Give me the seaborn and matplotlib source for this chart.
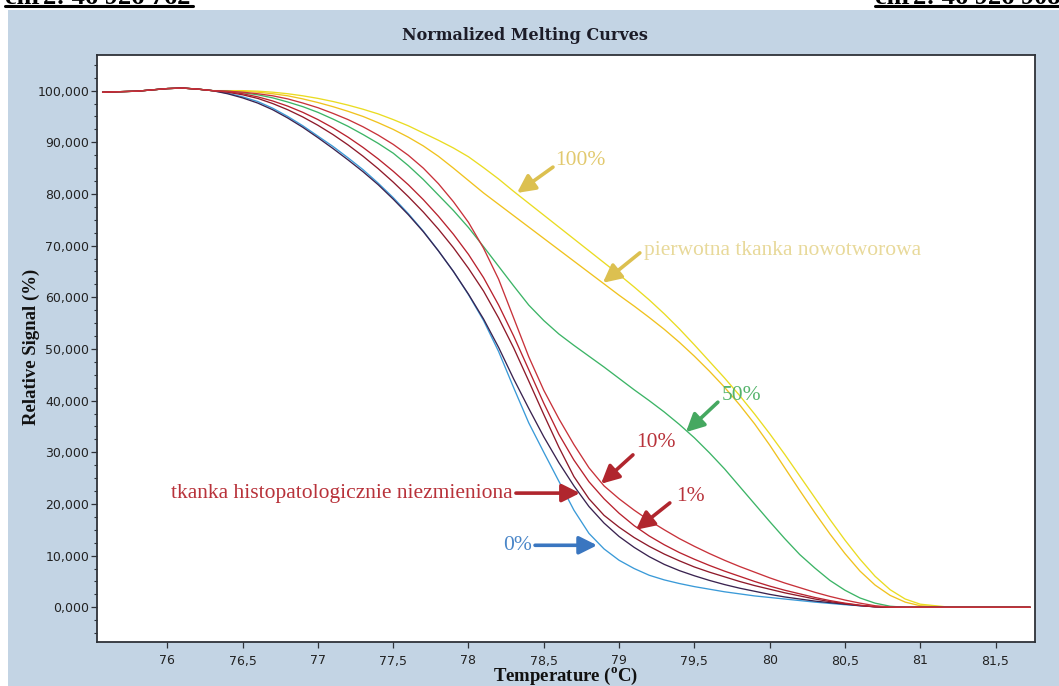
import matplotlib
matplotlib.use("Agg")
import numpy as np
import pandas as pd
import seaborn as sns
import matplotlib.pyplot as plt
from matplotlib.patches import Rectangle
from matplotlib.lines import Line2D
from matplotlib.ticker import MultipleLocator, FuncFormatter

# ---------------------------------------------------------------------------
# Normalized melting curves (HRM) — temperature grid and relative signal (%)
# ---------------------------------------------------------------------------
temperature = [75.57, 75.8, 76.0, 76.1, 76.2, 76.3,
               76.4, 76.5, 76.6, 76.7, 76.8, 76.9, 77.0,
               77.1, 77.2, 77.3, 77.4, 77.5, 77.6, 77.7, 77.8, 77.9, 78.0,
               78.1, 78.2, 78.3, 78.4, 78.5, 78.6, 78.7, 78.8, 78.9, 79.0,
               79.1, 79.2, 79.3, 79.4, 79.5, 79.6, 79.7, 79.8, 79.9, 80.0,
               80.1, 80.2, 80.3, 80.4, 80.5, 80.6, 80.7, 80.8, 80.9, 81.0,
               81.2, 81.73]

start = [99.7, 99.9, 100.4, 100.5, 100.3, 100.0]
tail = [0.0, 0.0]

primary_tumour = start + [
    100.0, 99.9, 99.7, 99.4, 99.0, 98.4, 97.7,
    96.9, 96.0, 95.0, 93.8, 92.5, 91.0, 89.3, 87.3, 85.0, 82.6,
    80.2, 78.0, 75.8, 73.6, 71.4, 69.2, 67.0, 64.8, 62.6, 60.4,
    58.3, 56.1, 53.8, 51.3, 48.6, 45.7, 42.6, 39.2, 35.5, 31.4,
    27.0, 22.6, 18.3, 14.2, 10.4, 7.0, 4.3, 2.3, 1.0, 0.3] + tail

mut_100 = start + [
    100.0, 100.0, 99.9, 99.7, 99.4, 99.0, 98.5,
    97.9, 97.2, 96.4, 95.5, 94.4, 93.2, 91.8, 90.4, 88.9, 87.2,
    85.1, 82.9, 80.5, 78.2, 75.9, 73.6, 71.3, 69.0, 66.7, 64.4,
    62.0, 59.5, 56.8, 53.9, 50.8, 47.6, 44.4, 41.0, 37.4, 33.6,
    29.6, 25.4, 21.2, 17.0, 13.0, 9.3, 6.0, 3.4, 1.6, 0.6] + tail

mut_50 = start + [
    99.9, 99.6, 99.2, 98.6, 97.8, 96.9, 95.8,
    94.5, 93.1, 91.5, 89.8, 87.9, 85.5, 82.8, 79.8, 76.8, 73.5,
    69.8, 66.0, 62.2, 58.5, 55.5, 52.9, 50.7, 48.6, 46.5, 44.3,
    42.1, 40.0, 37.8, 35.4, 32.8, 29.9, 26.8, 23.4, 20.0, 16.6,
    13.3, 10.2, 7.6, 5.2, 3.3, 1.8, 0.8, 0.2, 0.0, 0.0] + tail

mut_0 = start + [
    99.5, 98.8, 97.9, 96.6, 95.0, 93.2, 91.2,
    89.2, 87.0, 84.7, 82.1, 79.3, 76.2, 72.8, 69.0, 65.0, 60.5,
    55.5, 49.5, 42.5, 35.7, 30.0, 24.4, 18.8, 14.3, 11.3, 9.1,
    7.5, 6.2, 5.3, 4.6, 4.0, 3.5, 3.0, 2.6, 2.2, 1.9,
    1.6, 1.3, 1.0, 0.75, 0.5, 0.3, 0.1, 0.0, 0.0, 0.0] + tail

wild_type_ref = start + [
    99.4, 98.6, 97.6, 96.3, 94.7, 92.9, 90.9,
    88.8, 86.6, 84.3, 81.8, 79.0, 76.0, 72.7, 69.0, 65.0, 60.6,
    55.8, 50.3, 44.2, 38.5, 33.0, 28.0, 23.5, 19.5, 16.3, 13.7,
    11.6, 9.8, 8.3, 7.1, 6.1, 5.2, 4.4, 3.7, 3.1, 2.5,
    2.0, 1.6, 1.2, 0.9, 0.6, 0.3, 0.1, 0.0, 0.0, 0.0] + tail

normal_tissue = start + [
    99.7, 99.2, 98.5, 97.5, 96.3, 94.9, 93.3,
    91.5, 89.5, 87.3, 84.9, 82.3, 79.5, 76.5, 73.2, 69.6, 65.6,
    61.2, 56.0, 50.2, 43.8, 37.3, 31.0, 25.3, 21.0, 17.8, 15.5,
    13.5, 11.8, 10.3, 9.0, 7.8, 6.8, 5.9, 5.0, 4.2, 3.5,
    2.8, 2.2, 1.6, 1.1, 0.7, 0.35, 0.1, 0.0, 0.0, 0.0] + tail

mut_1 = start + [
    99.8, 99.4, 98.8, 98.0, 97.0, 95.8, 94.4,
    92.8, 91.0, 89.0, 86.8, 84.4, 81.8, 78.9, 75.7, 72.2, 68.3,
    63.8, 58.5, 52.5, 46.0, 39.5, 33.5, 28.5, 24.3, 21.0, 18.2,
    15.8, 13.8, 12.1, 10.6, 9.3, 8.1, 7.0, 6.0, 5.0, 4.1,
    3.3, 2.6, 1.9, 1.3, 0.8, 0.4, 0.1, 0.0, 0.0, 0.0] + tail

mut_10 = start + [
    99.9, 99.7, 99.4, 99.0, 98.4, 97.6, 96.7,
    95.6, 94.4, 93.0, 91.4, 89.6, 87.5, 85.0, 82.0, 78.5, 74.5,
    69.5, 63.5, 56.0, 48.5, 42.0, 36.5, 31.5, 27.0, 23.5, 21.0,
    18.8, 16.8, 15.0, 13.3, 11.8, 10.4, 9.1, 7.9, 6.8, 5.7,
    4.7, 3.8, 2.9, 2.1, 1.4, 0.8, 0.3, 0.05, 0.0, 0.0] + tail

curves = {
    "primary_tumour": primary_tumour,
    "mut_100": mut_100,
    "mut_50": mut_50,
    "mut_0": mut_0,
    "wild_type_ref": wild_type_ref,
    "normal_tissue": normal_tissue,
    "mut_1": mut_1,
    "mut_10": mut_10,
}
curve_colors = {
    "primary_tumour": "#f0c21e",
    "mut_100": "#eadc22",
    "mut_50": "#3cb466",
    "mut_0": "#3a9ad8",
    "wild_type_ref": "#3a2350",
    "normal_tissue": "#8e1a2a",
    "mut_1": "#b8222e",
    "mut_10": "#c8323a",
}

x_ticks = [76, 76.5, 77, 77.5, 78, 78.5, 79, 79.5, 80, 80.5, 81, 81.5]
y_ticks = [0, 10, 20, 30, 40, 50, 60, 70, 80, 90, 100]

long_df = pd.concat(
    [pd.DataFrame({"temp": temperature, "signal": vals, "curve": name})
     for name, vals in curves.items()],
    ignore_index=True,
)

# ---------------------------------------------------------------------------
# Figure
# ---------------------------------------------------------------------------
sns.set_theme(style="white")
W, H = 1059, 686
PANEL = "#c3d4e4"

fig = plt.figure(figsize=(W / 100, H / 100), dpi=100, facecolor="white")
panel = Rectangle((8 / W, 0), 1, 1 - 10 / H, transform=fig.transFigure,
                  facecolor=PANEL, edgecolor="none", zorder=-10)
fig.add_artist(panel)

ax = fig.add_axes([97 / W, 1 - 642 / H, (1035 - 97) / W, (642 - 55) / H])
ax.set_zorder(1)
ax.set_facecolor("white")

sns.lineplot(data=long_df, x="temp", y="signal", hue="curve",
             hue_order=list(curves.keys()), palette=curve_colors,
             estimator=None, sort=False, legend=False, linewidth=0.95, ax=ax)

ax.set_xlim(75.533, 81.762)
ax.set_ylim(-6.72, 106.9)
ax.set_xlabel("")
ax.set_ylabel("")

ax.xaxis.set_major_locator(plt.FixedLocator(x_ticks))
ax.yaxis.set_major_locator(plt.FixedLocator(y_ticks))
ax.yaxis.set_minor_locator(MultipleLocator(2.5))
ax.xaxis.set_major_formatter(FuncFormatter(lambda v, p: f"{v:g}".replace(".", ",")))
ax.yaxis.set_major_formatter(FuncFormatter(lambda v, p: f"{v:.3f}".replace(".", ",")))

spine_c = "#2e3238"
for s in ax.spines.values():
    s.set_color(spine_c)
    s.set_linewidth(1.3)
ax.tick_params(axis="both", which="both", direction="out", colors=spine_c,
               labelcolor="#222222", labelsize=9)
ax.tick_params(axis="y", which="major", length=4.5, width=0.9, pad=1, left=True)
ax.tick_params(axis="y", which="minor", length=2.5, width=0.8, left=True)
ax.tick_params(axis="x", which="major", length=4, width=0.9, pad=5, bottom=True)
for lab in ax.get_xticklabels() + ax.get_yticklabels():
    lab.set_family("DejaVu Sans")

# Titles and axis labels
fig.text(525 / W, 1 - 35 / H, "Normalized Melting Curves", ha="center", va="center",
         family="DejaVu Serif", fontweight="bold", fontsize=11.5, color="#1c1c28")
fig.text(566 / W, 1 - 676 / H, "Temperature ($^{\\mathregular{o}}$C)", ha="center",
         va="center", family="Liberation Serif", fontweight="bold", fontsize=13.5,
         color="#111111")
fig.text(31 / W, 1 - 347 / H, "Relative Signal (%)", ha="center", va="center",
         rotation=90, family="Liberation Serif", fontweight="bold", fontsize=13.5,
         color="#111111")

# Header locus labels (partly outside the page)
for x0, x1, label in [(5, 193, "chr2: 46 926 762"), (875, 1062, "chr2: 46 926 908")]:
    fig.text(x0 / W, 1 - 4 / H, label, ha="left", va="baseline",
             family="Liberation Serif", fontweight="bold", fontsize=19, color="black")
    fig.add_artist(Line2D([x0 / W, x1 / W], [1 - 6.2 / H] * 2, lw=2.2, color="black",
                          transform=fig.transFigure))

# Annotations: label text, arrow tail, arrow tip (data coords)
ann_font = dict(family="Liberation Serif", fontsize=15.5)
annotations = [
    ("100%", (78.574, 86.5), "left", "#e2c96e", "#dcc050", (78.561, 85.2), (78.322, 80.2)),
    ("pierwotna tkanka nowotworowa", (79.165, 69.0), "left", "#e8d99a", "#dcc050",
     (79.138, 68.6), (78.892, 62.8)),
    ("50%", (79.683, 40.9), "left", "#55b46c", "#45a860", (79.656, 39.7), (79.444, 33.9)),
    ("10%", (79.112, 31.8), "left", "#b8323a", "#b0262e", (79.092, 29.5), (78.88, 23.9)),
    ("tkanka histopatologicznie niezmieniona", (78.29, 22.1), "right", "#b8323a",
     "#b0262e", (78.315, 22.1), (78.74, 22.1)),
    ("1%", (79.377, 21.4), "left", "#b8323a", "#b0262e", (79.337, 20.2), (79.112, 15.0)),
    ("0%", (78.42, 11.9), "right", "#4a86c8", "#3a76c0", (78.442, 12.0), (78.854, 12.0)),
]
for text, pos, ha, tcol, acol, tail_pt, tip_pt in annotations:
    ax.text(pos[0], pos[1], text, ha=ha, va="center", color=tcol, **ann_font)
    ax.annotate("", xy=tip_pt, xytext=tail_pt,
                arrowprops=dict(arrowstyle="-|>,head_length=0.9,head_width=0.45",
                                lw=2.6, color=acol, shrinkA=0, shrinkB=0,
                                mutation_scale=12))

fig.savefig("out.png", dpi=100, facecolor="white")
